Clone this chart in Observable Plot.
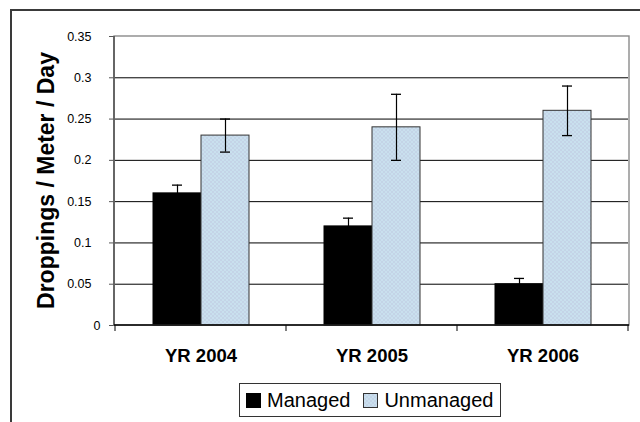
<!DOCTYPE html>
<html>
<head>
<meta charset="utf-8">
<script src="https://cdn.jsdelivr.net/npm/d3@7"></script>
<script src="https://cdn.jsdelivr.net/npm/@observablehq/plot@0.6"></script>
<style>
  body { margin: 0; background: #fff; font-family: "Liberation Sans", Arial, sans-serif; }
  #wrap { position: relative; width: 640px; height: 422px; overflow: hidden; background: #fff; }
  #chart { position: absolute; left: 0; top: 0; }
  #outer { position: absolute; left: 10px; top: 9px; width: 700px; height: 500px;
           border-left: 2px solid #3a3a3a; border-top: 2px solid #3a3a3a; pointer-events: none; }
  #legend { position: absolute; left: 239px; top: 383px; width: 254px; height: 32px;
            border: 1px solid #333; display: flex; align-items: center; font-size: 20px; color: #000;
            box-sizing: content-box; padding-left: 6px; }
  .item { display: flex; align-items: center; }
  .item svg { margin-right: 6px; }
</style>
</head>
<body>
<svg width="0" height="0" style="position:absolute">
  <defs>
    <pattern id="unm" width="4" height="4" patternUnits="userSpaceOnUse" patternTransform="translate(-0.5,-0.5)">
      <rect width="4" height="4" fill="#c4e5f1"></rect>
      <rect x="0" y="0" width="1" height="1" fill="#c39fc9"></rect>
      <rect x="2" y="2" width="1" height="1" fill="#c39fc9"></rect>
      <rect x="2" y="0" width="1" height="1" fill="#d6d0e4"></rect>
      <rect x="0" y="2" width="1" height="1" fill="#d6d0e4"></rect>
    </pattern>
  </defs>
</svg>
<div id="wrap">
  <div id="chart"></div>
  <div id="legend"></div>
  <div id="outer"></div>
</div>
<script>
// ---- data ----
const years = ["YR 2004", "YR 2005", "YR 2006"];
const series = ["Managed", "Unmanaged"];
const managed = [0.16, 0.12, 0.05];
const managedErr = [0.01, 0.01, 0.007];
const unmanaged = [0.23, 0.24, 0.26];
const unmanagedErr = [0.02, 0.04, 0.03];
const yTicks = [0, 0.05, 0.1, 0.15, 0.2, 0.25, 0.3, 0.35];
const yLabel = "Droppings / Meter / Day";
const fills = ["#000000", "url(#unm)"];
const strokes = ["#000000", "#333333"];

const rows = years.flatMap((yr, i) => [
  {year: yr, series: series[0], value: managed[i], err: managedErr[i]},
  {year: yr, series: series[1], value: unmanaged[i], err: unmanagedErr[i]}
]);

const fmt = d => String(d);

const chart = Plot.plot({
  width: 640,
  height: 378,
  marginLeft: 114,
  marginRight: 11,
  marginTop: 36,
  marginBottom: 53,
  style: {fontFamily: '"Liberation Sans", Arial, sans-serif', background: "transparent", color: "#000"},
  fx: {domain: years, padding: 0, round: true, label: null},
  x: {domain: series, paddingInner: 0, paddingOuter: 0.745, round: true, axis: null},
  y: {domain: [0, 0.35], label: null},
  marks: [
    Plot.ruleY(yTicks.slice(1, -1), {stroke: "#000", strokeWidth: 1}),
    ...series.map((s, k) => Plot.barY(rows.filter(d => d.series === s), {
      fx: "year", x: "series", y: "value", fill: fills[k], stroke: strokes[k], strokeWidth: 1
    })),
    Plot.ruleX(rows, {fx: "year", x: "series", y1: d => d.value - d.err, y2: d => d.value + d.err, stroke: "#000", strokeWidth: 1.2}),
    Plot.tickY(rows, {fx: "year", x: "series", y: d => d.value + d.err, insetLeft: 19, insetRight: 19, stroke: "#000", strokeWidth: 1.3}),
    Plot.tickY(rows, {fx: "year", x: "series", y: d => d.value - d.err, insetLeft: 19, insetRight: 19, stroke: "#000", strokeWidth: 1.3}),
    Plot.axisY(yTicks.slice(1), {tickSize: 6, tickPadding: 18, tickFormat: fmt, fontSize: 12.5, stroke: "#555", label: null}),
    Plot.axisY([0], {tickSize: 6, tickPadding: 9, tickFormat: fmt, fontSize: 12.5, stroke: "#555", label: null}),
    Plot.axisFx({anchor: "bottom", tickSize: 0, tickPadding: 23, fontSize: 18.5, fontWeight: "bold", label: null})
  ]
});

// frame, axis lines, category boundary ticks and y title, positioned through the plot's own scales
const fxS = chart.scale("fx");
const yS = chart.scale("y");
const svg = d3.select(chart);
const xStart = fxS.range[0];
const lastEdge = fxS.apply(years[years.length - 1]) + fxS.bandwidth;
const xEnd = Math.max(lastEdge, fxS.range[1]);
const yBase = yS.apply(0);
const yTop = yS.apply(yTicks[yTicks.length - 1]);
const bounds = years.map(y => fxS.apply(y)).concat([lastEdge]);
const g = svg.append("g");
g.append("rect").attr("x", xStart).attr("y", yTop).attr("width", xEnd - xStart).attr("height", yBase - yTop)
  .attr("fill", "none").attr("stroke", "#8a8a8a").attr("stroke-width", 1.4);
g.selectAll("line.b").data(bounds).join("line")
  .attr("x1", d => d).attr("x2", d => d)
  .attr("y1", yBase).attr("y2", yBase + 6)
  .attr("stroke", "#555").attr("stroke-width", 1.5);
g.append("line").attr("x1", xStart).attr("x2", xStart).attr("y1", yTop).attr("y2", yBase)
  .attr("stroke", "#555").attr("stroke-width", 1.6);
g.append("line").attr("x1", xStart).attr("x2", xEnd).attr("y1", yBase).attr("y2", yBase)
  .attr("stroke", "#000").attr("stroke-width", 1.3);
const cy = (yTop + yBase) / 2;
g.append("text").text(yLabel)
  .attr("transform", `translate(${xStart - 68},${cy}) rotate(-90)`)
  .attr("text-anchor", "middle").attr("dominant-baseline", "central")
  .attr("font-size", 23).attr("font-weight", "bold").attr("fill", "#000")
  .attr("font-family", '"Liberation Sans", Arial, sans-serif');

document.getElementById("chart").append(chart);

// legend
const leg = d3.select("#legend");
series.forEach((s, k) => {
  const it = leg.append("div").attr("class", "item").style("margin-right", k === 0 ? "13px" : "0px");
  const sw = it.append("svg").attr("width", 15).attr("height", 15);
  sw.append("rect").attr("x", 0.5).attr("y", 0.5).attr("width", 14).attr("height", 14)
    .attr("fill", fills[k]).attr("stroke", strokes[k]);
  it.append("span").text(s);
});
</script>
</body>
</html>
